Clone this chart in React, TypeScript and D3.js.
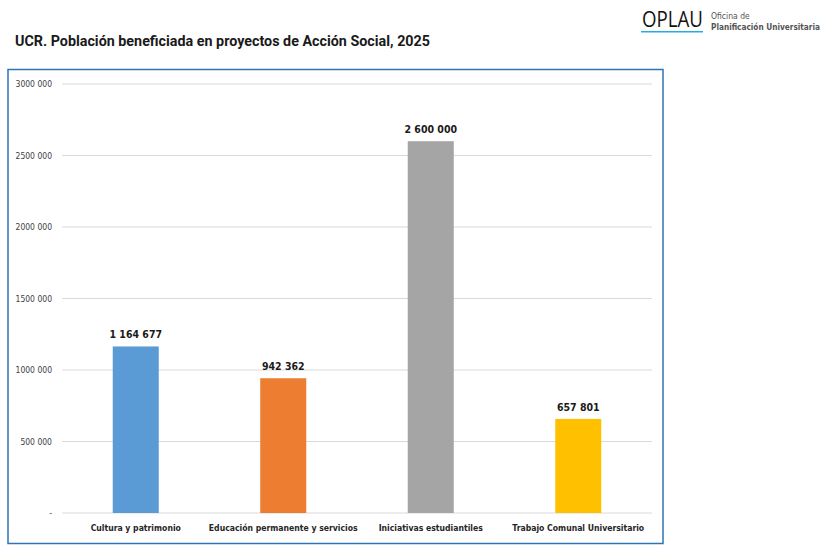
import React from "react";
import * as d3 from "d3";

const categories = [
  "Cultura y patrimonio",
  "Educación permanente y servicios",
  "Iniciativas estudiantiles",
  "Trabajo Comunal Universitario",
];
const values = [1164677, 942362, 2600000, 657801];
const colors = ["#5B9BD5", "#ED7D31", "#A5A5A5", "#FFC000"];
const yTicks = [0, 500000, 1000000, 1500000, 2000000, 2500000, 3000000];

const fmt = (v: number) => d3.format(",")(v).replace(/,/g, " ");
const fmtTick = (v: number) => {
  if (v === 0) return "-";
  const s = String(v);
  return s.slice(0, -3) + " " + s.slice(-3);
};

export default function App() {
  const W = 821, H = 550;
  const left = 62, right = 652, top = 84, bottom = 513;
  const x = d3.scaleBand<string>().domain(categories).range([left, right]).paddingInner(0.688).paddingOuter(0.344);
  const y = d3.scaleLinear().domain([0, 3000000]).range([bottom, top]);
  const cond = "'DejaVu Sans Condensed', 'Liberation Sans Narrow', 'Open Sans', sans-serif";
  return (
    <svg width={W} height={H} style={{ position: "absolute", left: 0, top: 0, background: "#fff" }}>
      <rect x={0} y={0} width={W} height={H} fill="#fff" />
      {/* Title */}
      <text x={15} y={46} fontFamily="Roboto, 'Open Sans', sans-serif" fontWeight={700} fontSize={15.5} fill="#1a1a1a" textLength={415} lengthAdjust="spacingAndGlyphs">
        UCR. Población beneficiada en proyectos de Acción Social, 2025
      </text>
      {/* Logo */}
      <text x={642} y={27} fontFamily="'Open Sans', sans-serif" fontSize={21} fill="#111" textLength={61} lengthAdjust="spacingAndGlyphs">OPLAU</text>
      <rect x={641} y={31} width={62} height={1.5} fill="#29ABE2" />
      <text x={711} y={19} fontFamily={cond} fontSize={8.5} fill="#555">Oficina de</text>
      <text x={711} y={30} fontFamily={cond} fontWeight={700} fontSize={8.2} fill="#555">Planificación Universitaria</text>
      {/* Chart border */}
      <rect x={8} y={69.5} width={655} height={474} fill="#fff" stroke="#2E75B6" strokeWidth={1.5} />
      {/* Grid */}
      {yTicks.map((t) => (
        <g key={t}>
          <line x1={left} x2={right} y1={y(t)} y2={y(t)} stroke="#D9D9D9" strokeWidth={1} />
          <text x={52} y={y(t) + 3} textAnchor="end" fontFamily={cond} fontSize={8.5} fill="#404040">
            {fmtTick(t)}
          </text>
        </g>
      ))}
      {/* Bars */}
      {categories.map((c, i) => (
        <g key={c}>
          <rect x={x(c)} y={y(values[i])} width={x.bandwidth()} height={y(0) - y(values[i])} fill={colors[i]} />
          <text x={(x(c) as number) + x.bandwidth() / 2} y={y(values[i]) - 8} textAnchor="middle" fontFamily={cond} fontWeight={700} fontSize={10.5} fill="#1a1a1a">
            {fmt(values[i])}
          </text>
          <text x={(x(c) as number) + x.bandwidth() / 2} y={531} textAnchor="middle" fontFamily={cond} fontWeight={700} fontSize={8.6} fill="#262626">
            {c}
          </text>
        </g>
      ))}
    </svg>
  );
}
